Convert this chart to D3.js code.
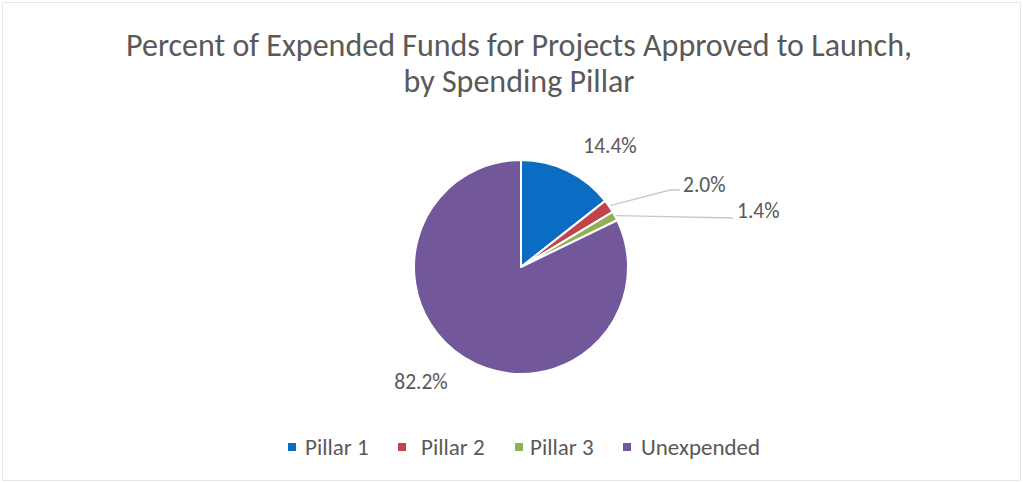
<!DOCTYPE html>
<html><head><meta charset="utf-8">
<script src="https://cdn.jsdelivr.net/npm/d3@7"></script>
<style>
html,body{margin:0;padding:0;background:#fff;}
svg{display:block;}
text{font-family:Carlito,Calibri,"Liberation Sans",sans-serif;fill:#595959;}
</style></head>
<body>
<svg id="chart" width="1023" height="483"></svg>
<script>
const categories = ["Pillar 1", "Pillar 2", "Pillar 3", "Unexpended"];
const values = [14.4, 2.0, 1.4, 82.2];
const valueLabels = ["14.4%", "2.0%", "1.4%", "82.2%"];
const colors = ["#0B6CC3", "#C0444C", "#8FB055", "#72589A"];
const titleLines = ["Percent of Expended Funds for Projects Approved to Launch,", "by Spending Pillar"];

const W = 1023, H = 483;
const svg = d3.select("#chart");
svg.append("rect").attr("width", W).attr("height", H).attr("fill", "#fff");
svg.append("rect").attr("x", 2.5).attr("y", 2.5).attr("width", W-5).attr("height", H-5)
  .attr("fill", "none").attr("stroke", "#e6e6e6");

// title
svg.append("text").attr("x", 519).attr("y", 56).attr("text-anchor", "middle")
  .style("font-size", "32px").text(titleLines[0]);
svg.append("text").attr("x", 519).attr("y", 92).attr("text-anchor", "middle")
  .style("font-size", "32px").text(titleLines[1]);

const cx = 521, cy = 267, R = 107;
const pie = d3.pie().sort(null).value(d => d)(values);
const arc = d3.arc().innerRadius(0).outerRadius(R);
const g = svg.append("g").attr("transform", `translate(${cx},${cy})`);
g.selectAll("path").data(pie).join("path")
  .attr("d", arc).attr("fill", (d, i) => colors[i])
  .attr("stroke", "#fff").attr("stroke-width", 2).attr("stroke-linejoin", "round");

// labels (layout offsets relative to pie centre)
const labelLayout = [
  {x: 89, y: -121.5, anchor: "middle", leader: null},
  {x: 162, y: -82.5, anchor: "start", leader: {bend: [149, -77], end: [159, -77]}},
  {x: 216, y: -56.5, anchor: "start", leader: {bend: null, end: [212, -49]}},
  {x: -100, y: 114.5, anchor: "middle", leader: null}
];
pie.forEach((d, i) => {
  const L = labelLayout[i];
  if (L.leader) {
    const a = (d.startAngle + d.endAngle) / 2;
    const p0 = [Math.sin(a) * (R + 1), -Math.cos(a) * (R + 1)];
    const pts = [p0];
    if (L.leader.bend) pts.push(L.leader.bend);
    pts.push(L.leader.end);
    g.append("polyline").attr("points", pts.map(p => p.join(",")).join(" "))
      .attr("fill", "none").attr("stroke", "#c8c8c8").attr("stroke-width", 1.3);
  }
  g.append("text").attr("x", L.x).attr("y", L.y).attr("dy", "0.35em")
    .attr("text-anchor", L.anchor).style("font-size", "21.5px").text(valueLabels[i]);
});

// legend
const legendMarkX = [288, 398, 515, 623];
const legendTextX = [305, 421, 530, 641];
const lg = svg.append("g");
categories.forEach((c, i) => {
  lg.append("rect").attr("x", legendMarkX[i]).attr("y", 443).attr("width", 8).attr("height", 8).attr("fill", colors[i]);
  lg.append("text").attr("x", legendTextX[i]).attr("y", 447).attr("dy", "0.35em")
    .style("font-size", "23px").text(c);
});
</script>
</body></html>
